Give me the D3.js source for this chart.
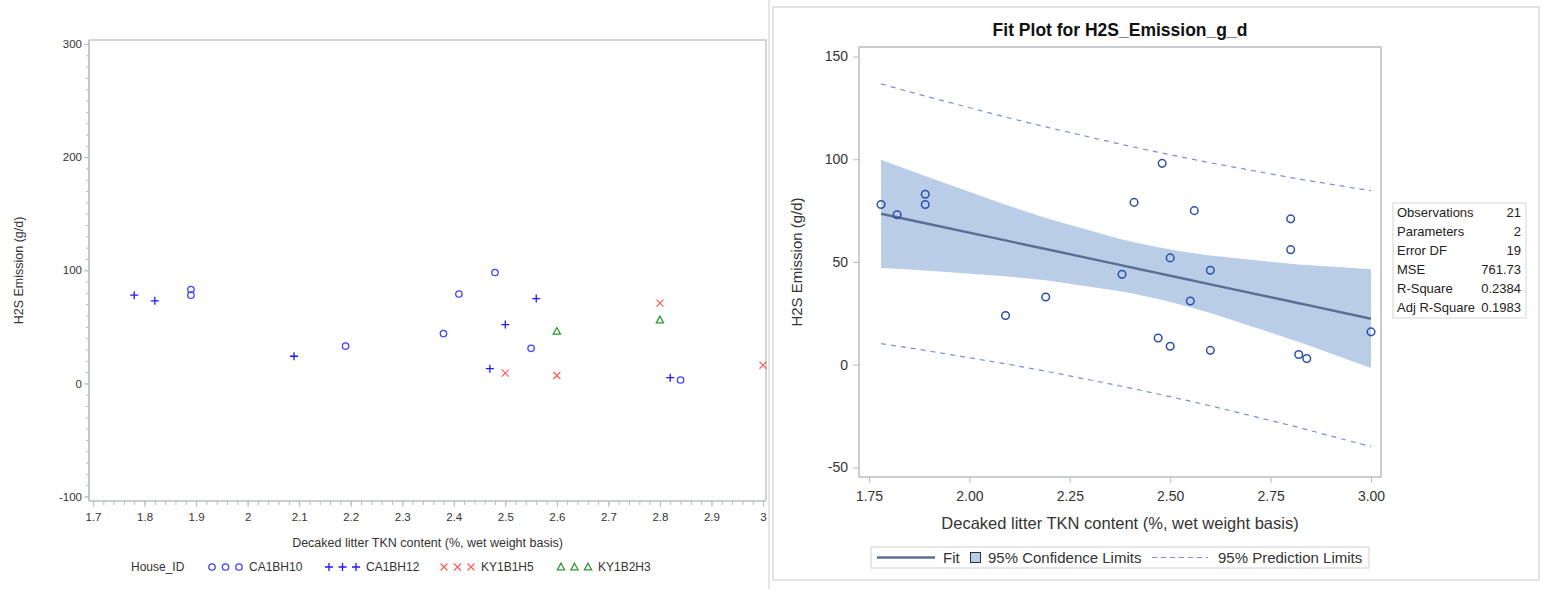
<!DOCTYPE html>
<html>
<head>
<meta charset="utf-8">
<script src="https://cdn.jsdelivr.net/npm/d3@7"></script>
<style>
  html, body { margin: 0; padding: 0; background: #fff; }
  svg { display: block; font-family: "Liberation Sans", Arial, sans-serif; }
</style>
</head>
<body>
<svg id="chart" width="1543" height="589"></svg>
<script>
// ---- Data: decaked litter TKN (%) vs H2S emission (g/d), grouped by house ----
const houses = ["CA1BH10", "CA1BH12", "KY1B1H5", "KY1B2H3"];
const tknCA1BH10 = [1.89, 1.89, 2.19, 2.38, 2.41, 2.48, 2.55, 2.84];
const h2sCA1BH10 = [78, 83, 33, 44, 79, 98, 31, 3];
const tknCA1BH12 = [1.78, 1.82, 2.09, 2.47, 2.50, 2.56, 2.82];
const h2sCA1BH12 = [78, 73, 24, 13, 52, 75, 5];
const tknKY1B1H5 = [2.50, 2.60, 2.80, 3.00];
const h2sKY1B1H5 = [9, 7, 71, 16];
const tknKY1B2H3 = [2.60, 2.80];
const h2sKY1B2H3 = [46, 56];

const leftXTicks = [1.7, 1.8, 1.9, 2.0, 2.1, 2.2, 2.3, 2.4, 2.5, 2.6, 2.7, 2.8, 2.9, 3.0];
const leftYTicks = [-100, 0, 100, 200, 300];
const rightXTicks = [1.75, 2.00, 2.25, 2.50, 2.75, 3.00];
const rightYTicks = [-50, 0, 50, 100, 150];

const statLabels = ["Observations", "Parameters", "Error DF", "MSE", "R-Square", "Adj R-Square"];
const statValues = ["21", "2", "19", "761.73", "0.2384", "0.1983"];

const tCrit = 2.093; // t(0.975, 19)

// ---- Assemble per-house records ----
const groups = [
  { id: houses[0], x: tknCA1BH10, y: h2sCA1BH10 },
  { id: houses[1], x: tknCA1BH12, y: h2sCA1BH12 },
  { id: houses[2], x: tknKY1B1H5, y: h2sKY1B1H5 },
  { id: houses[3], x: tknKY1B2H3, y: h2sKY1B2H3 }
];
const points = [];
groups.forEach(g => g.x.forEach((xv, i) => points.push({ house: g.id, x: xv, y: g.y[i] })));

const svg = d3.select("#chart");
const grayAxis = "#b8bcc0";
const textCol = "#333";
const FONT = "Liberation Sans, Arial, sans-serif";
const plain = d => String(d); // hyphen-minus for negatives

// ---- Symbols per house ----
const symStyle = {
  CA1BH10: { color: "#4040ff", shape: "circle" },
  CA1BH12: { color: "#1a1aff", shape: "plus" },
  KY1B1H5: { color: "#ff5a5a", shape: "cross" },
  KY1B2H3: { color: "#2e9a2e", shape: "triangle" }
};
function drawSymbol(g, shape, color, cx, cy) {
  if (shape === "circle") {
    g.append("circle").attr("cx", cx).attr("cy", cy).attr("r", 3.2)
      .attr("fill", "none").attr("stroke", color).attr("stroke-width", 1.3);
  } else if (shape === "plus") {
    g.append("path").attr("d", `M${cx-4},${cy}H${cx+4}M${cx},${cy-4}V${cy+4}`)
      .attr("stroke", color).attr("stroke-width", 1.3);
  } else if (shape === "cross") {
    g.append("path").attr("d", `M${cx-3.5},${cy-3.5}L${cx+3.5},${cy+3.5}M${cx-3.5},${cy+3.5}L${cx+3.5},${cy-3.5}`)
      .attr("stroke", color).attr("stroke-width", 1.2);
  } else {
    g.append("path").attr("d", `M${cx},${cy-3.8}L${cx+3.6},${cy+2.8}L${cx-3.6},${cy+2.8}Z`)
      .attr("fill", "none").attr("stroke", color).attr("stroke-width", 1.3);
  }
}

// =================== Left panel: scatter by house ===================
const L = { left: 89, right: 766, top: 40, bottom: 501 };
const xL = d3.scaleLinear().domain([1.7, 3.0]).range([93, 763]);
const yL = d3.scaleLinear().domain([-100, 300]).range([496.5, 44]);

const left = svg.append("g");
// frame (top + right)
left.append("path")
  .attr("d", `M${L.left},${L.top}H${L.right}V${L.bottom}`)
  .attr("fill", "none").attr("stroke", "#c4c8cc").attr("stroke-width", 1.5);
// separator line between panels
svg.append("line").attr("x1", 769).attr("x2", 769).attr("y1", 0).attr("y2", 589)
  .attr("stroke", "#d6d6d6").attr("stroke-width", 1.2);

// y axis with minor ticks every 10
const yAxisL = left.append("g").attr("transform", `translate(${L.left},0)`)
  .call(d3.axisLeft(yL).tickValues(d3.range(-100, 301, 10)).tickSize(3).tickFormat(""));
yAxisL.selectAll("line").attr("stroke", grayAxis);
yAxisL.select(".domain").attr("stroke", grayAxis).attr("stroke-width", 1.6)
  .attr("d", `M0,${L.top}V${L.bottom}`);
const yMajL = left.append("g").attr("transform", `translate(${L.left},0)`)
  .call(d3.axisLeft(yL).tickValues(leftYTicks).tickSize(5).tickPadding(2).tickFormat(plain));
yMajL.select(".domain").remove();
yMajL.selectAll("line").attr("stroke", grayAxis);
yMajL.selectAll("text").attr("fill", textCol).style("font-size", "11.5px").style("font-family", FONT);

// x axis with minor ticks every 0.02
const xAxisL = left.append("g").attr("transform", `translate(0,${L.bottom})`)
  .call(d3.axisBottom(xL).tickValues(d3.range(0, 66).map(i => 1.7 + i * 0.02)).tickSize(4).tickFormat(""));
xAxisL.selectAll("line").attr("stroke", grayAxis);
xAxisL.select(".domain").attr("stroke", grayAxis).attr("stroke-width", 1.6)
  .attr("d", `M${L.left},0H${L.right}`);
const xMajL = left.append("g").attr("transform", `translate(0,${L.bottom})`)
  .call(d3.axisBottom(xL).tickValues(leftXTicks).tickSize(6).tickPadding(6).tickFormat(d3.format("~g")));
xMajL.select(".domain").remove();
xMajL.selectAll("line").attr("stroke", grayAxis);
xMajL.selectAll("text").attr("fill", textCol).style("font-size", "11.5px").style("font-family", FONT);

// axis titles
left.append("text").attr("transform", `translate(23,${(L.top + L.bottom) / 2}) rotate(-90)`)
  .attr("text-anchor", "middle").attr("fill", textCol).style("font-size", "12.5px")
  .text("H2S Emission (g/d)");
left.append("text").attr("x", (L.left + L.right) / 2).attr("y", 547)
  .attr("text-anchor", "middle").attr("fill", textCol).style("font-size", "12.5px")
  .text("Decaked litter TKN content (%, wet weight basis)");

// points
const markL = left.append("g");
points.forEach(p => {
  const s = symStyle[p.house];
  drawSymbol(markL, s.shape, s.color, xL(p.x), yL(p.y));
});

// legend
const legL = left.append("g");
legL.append("text").attr("x", 131).attr("y", 571).attr("fill", textCol)
  .style("font-size", "12px").text("House_ID");
const legStart = [212, 329, 444, 561];
houses.forEach((h, i) => {
  const s = symStyle[h];
  for (let k = 0; k < 3; k++) drawSymbol(legL, s.shape, s.color, legStart[i] + k * 13.5, 567);
  legL.append("text").attr("x", legStart[i] + 37).attr("y", 571).attr("fill", textCol)
    .style("font-size", "12px").text(h);
});

// =================== Right panel: regression fit plot ===================
const R = { left: 859, right: 1381, top: 47, bottom: 477 };
const xR = d3.scaleLinear().domain([1.75, 3.0]).range([869, 1371]);
const yR = d3.scaleLinear().domain([-50, 150]).range([467.5, 56.5]);

const right = svg.append("g");
right.append("rect").attr("x", 773).attr("y", 7).attr("width", 766).attr("height", 573)
  .attr("fill", "#fff").attr("stroke", "#d0d0d0").attr("stroke-width", 1.2);

right.append("text").attr("x", (R.left + R.right) / 2).attr("y", 36).attr("text-anchor", "middle")
  .attr("fill", "#111").style("font-size", "17.5px").style("font-weight", "bold")
  .text("Fit Plot for H2S_Emission_g_d");

// least-squares fit with confidence and prediction limits
const n = points.length;
const mx = d3.mean(points, p => p.x), my = d3.mean(points, p => p.y);
const sxx = d3.sum(points, p => (p.x - mx) ** 2);
const sxy = d3.sum(points, p => (p.x - mx) * (p.y - my));
const slope = sxy / sxx, icpt = my - slope * mx;
const mse = d3.sum(points, p => (p.y - (icpt + slope * p.x)) ** 2) / (n - 2);
const xs = Array.from(new Set(points.map(p => p.x))).sort(d3.ascending);
const fitRows = xs.map(x => {
  const f = icpt + slope * x;
  const seM = Math.sqrt(mse * (1 / n + (x - mx) ** 2 / sxx));
  const seP = Math.sqrt(mse * (1 + 1 / n + (x - mx) ** 2 / sxx));
  return { x, f, lcl: f - tCrit * seM, ucl: f + tCrit * seM, lpl: f - tCrit * seP, upl: f + tCrit * seP };
});

const plotR = right.append("g");
plotR.append("path").datum(fitRows)
  .attr("d", d3.area().x(d => xR(d.x)).y0(d => yR(d.lcl)).y1(d => yR(d.ucl)))
  .attr("fill", "#b9cde6");
plotR.append("path").datum(fitRows)
  .attr("d", d3.line().x(d => xR(d.x)).y(d => yR(d.f)))
  .attr("fill", "none").attr("stroke", "#5b6f95").attr("stroke-width", 2.4);
["upl", "lpl"].forEach(k => {
  plotR.append("path").datum(fitRows)
    .attr("d", d3.line().x(d => xR(d.x)).y(d => yR(d[k])))
    .attr("fill", "none").attr("stroke", "#7b8fd6").attr("stroke-width", 1.2)
    .attr("stroke-dasharray", "5,5");
});
plotR.selectAll("circle.obs").data(points).join("circle").attr("class", "obs")
  .attr("cx", d => xR(d.x)).attr("cy", d => yR(d.y)).attr("r", 3.8)
  .attr("fill", "none").attr("stroke", "#2c4faa").attr("stroke-width", 1.5);

// frame
right.append("rect").attr("x", R.left).attr("y", R.top)
  .attr("width", R.right - R.left).attr("height", R.bottom - R.top)
  .attr("fill", "none").attr("stroke", "#b4b8bc").attr("stroke-width", 1.4);

const yAxR = right.append("g").attr("transform", `translate(${R.left},0)`)
  .call(d3.axisLeft(yR).tickValues(rightYTicks).tickSize(6).tickPadding(5).tickFormat(plain));
yAxR.select(".domain").remove();
yAxR.selectAll("line").attr("stroke", grayAxis);
yAxR.selectAll("text").attr("fill", textCol).style("font-size", "14px").style("font-family", FONT);
const xAxR = right.append("g").attr("transform", `translate(0,${R.bottom})`)
  .call(d3.axisBottom(xR).tickValues(rightXTicks).tickSize(6).tickPadding(8).tickFormat(d3.format(".2f")));
xAxR.select(".domain").remove();
xAxR.selectAll("line").attr("stroke", grayAxis);
xAxR.selectAll("text").attr("fill", textCol).style("font-size", "14px").style("font-family", FONT);

right.append("text").attr("transform", `translate(802,${(R.top + R.bottom) / 2}) rotate(-90)`)
  .attr("text-anchor", "middle").attr("fill", textCol).style("font-size", "15px")
  .text("H2S Emission (g/d)");
right.append("text").attr("x", (R.left + R.right) / 2).attr("y", 529)
  .attr("text-anchor", "middle").attr("fill", textCol).style("font-size", "16.5px")
  .text("Decaked litter TKN content (%, wet weight basis)");

// statistics inset
const st = right.append("g");
st.append("rect").attr("x", 1393).attr("y", 203).attr("width", 133).attr("height", 115)
  .attr("fill", "#fff").attr("stroke", "#d4d4d4").attr("stroke-width", 1);
statLabels.forEach((lab, i) => {
  st.append("text").attr("x", 1397).attr("y", 216.5 + i * 19).attr("fill", "#222")
    .style("font-size", "13px").text(lab);
  st.append("text").attr("x", 1521).attr("y", 216.5 + i * 19).attr("text-anchor", "end")
    .attr("fill", "#222").style("font-size", "13px").text(statValues[i]);
});

// legend
const lg = right.append("g");
lg.append("rect").attr("x", 871).attr("y", 547).attr("width", 498).attr("height", 21)
  .attr("fill", "#fff").attr("stroke", "#cfcfcf").attr("stroke-width", 1);
lg.append("line").attr("x1", 877).attr("x2", 935).attr("y1", 557.5).attr("y2", 557.5)
  .attr("stroke", "#5b6f95").attr("stroke-width", 2.4);
lg.append("text").attr("x", 943).attr("y", 563).attr("fill", textCol).style("font-size", "15px").text("Fit");
lg.append("rect").attr("x", 970.5).attr("y", 552.5).attr("width", 10).attr("height", 10)
  .attr("fill", "#b9cde6").attr("stroke", "#333").attr("stroke-width", 1);
lg.append("text").attr("x", 988).attr("y", 563).attr("fill", textCol).style("font-size", "15px")
  .text("95% Confidence Limits");
lg.append("line").attr("x1", 1152).attr("x2", 1208).attr("y1", 557.5).attr("y2", 557.5)
  .attr("stroke", "#7b8fd6").attr("stroke-width", 1.2).attr("stroke-dasharray", "5,4");
lg.append("text").attr("x", 1218).attr("y", 563).attr("fill", textCol).style("font-size", "15px")
  .text("95% Prediction Limits");
</script>
</body>
</html>
